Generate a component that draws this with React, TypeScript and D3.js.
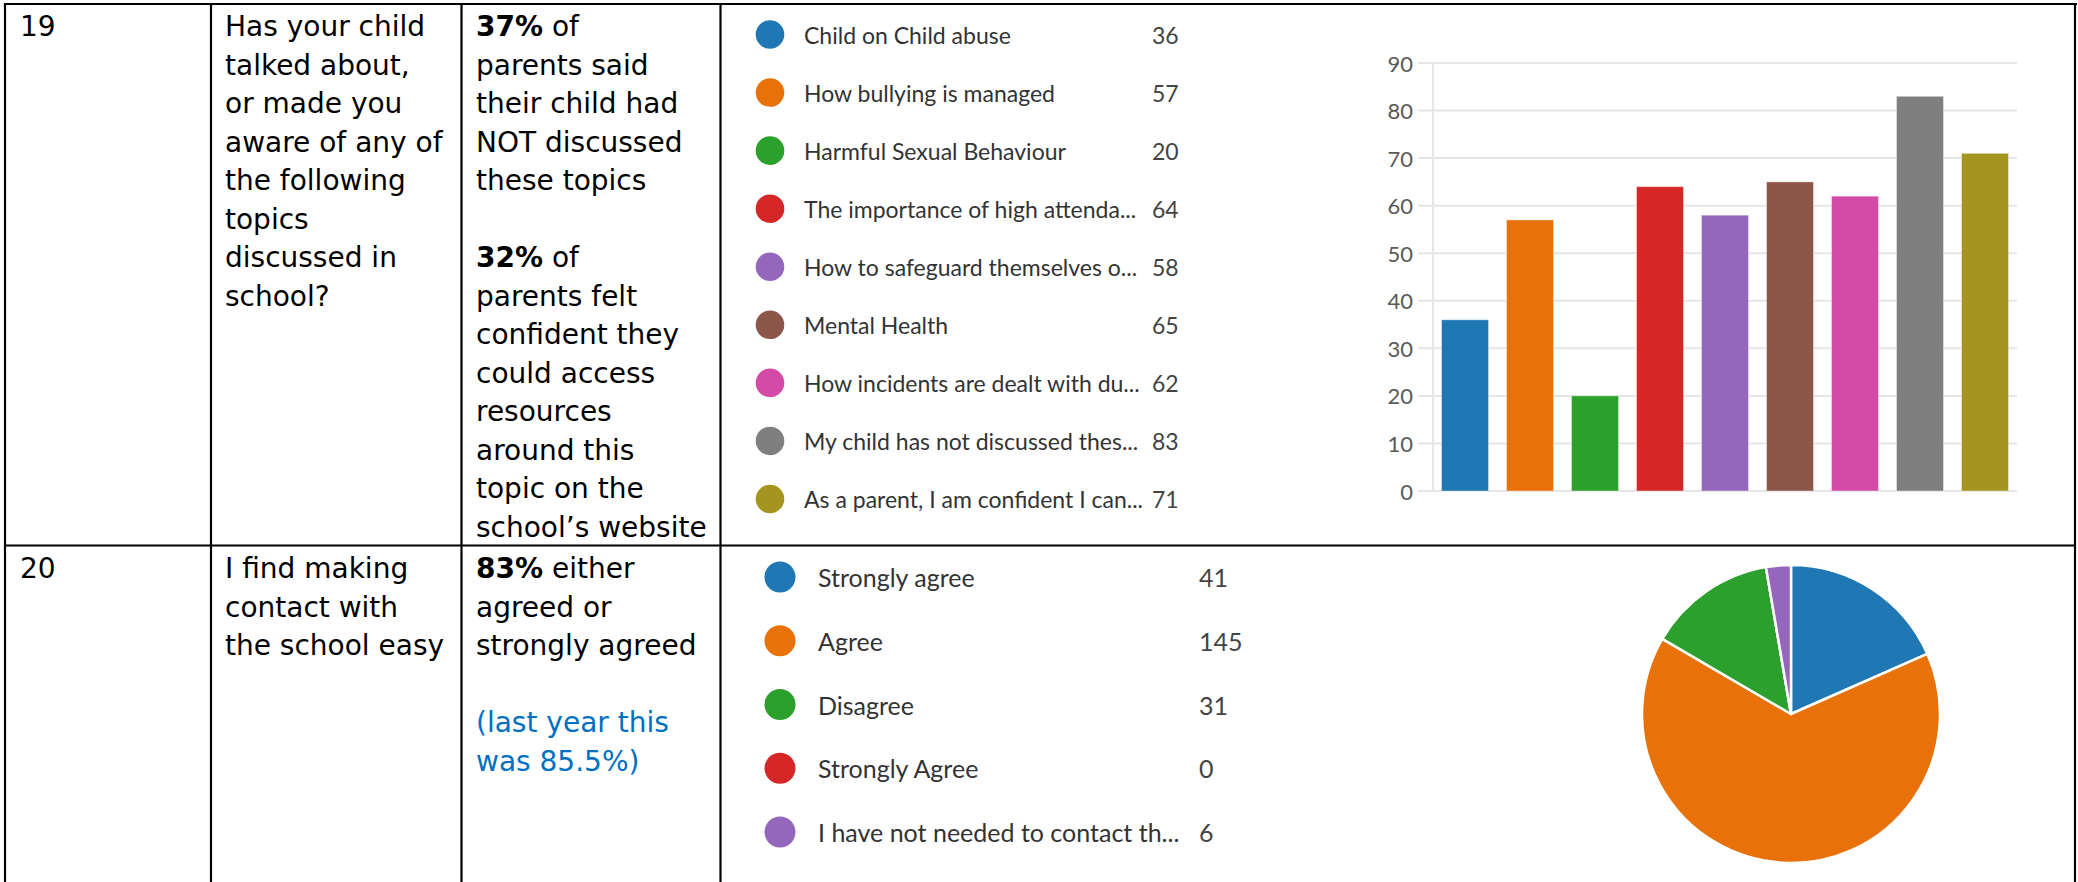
import React from "react";
import * as d3 from "d3";

// ---- Data ----
const topicLabels = [
  "Child on Child abuse",
  "How bullying is managed",
  "Harmful Sexual Behaviour",
  "The importance of high attenda...",
  "How to safeguard themselves o...",
  "Mental Health",
  "How incidents are dealt with du...",
  "My child has not discussed thes...",
  "As a parent, I am confident I can...",
];
const topicValues = [36, 57, 20, 64, 58, 65, 62, 83, 71];
const topicColors = ["#1f77b4", "#e8710a", "#2ca02c", "#d62728", "#9467bd", "#8c564b", "#d34ba7", "#7f7f7f", "#a4951e"];
const yTicks = [0, 10, 20, 30, 40, 50, 60, 70, 80, 90];

const contactLabels = ["Strongly agree", "Agree", "Disagree", "Strongly Agree", "I have not needed to contact th..."];
const contactValues = [41, 145, 31, 0, 6];
const contactColors = ["#1f77b4", "#e8710a", "#2ca02c", "#d62728", "#9467bd"];

const q19Number = "19";
const q19Question = ["Has your child", "talked about,", "or made you", "aware of any of", "the following", "topics", "discussed in", "school?"];
const q20Number = "20";
const q20Question = ["I find making", "contact with", "the school easy"];

const W = 2078;
const H = 882;
const tableFont = "'DejaVu Sans', Verdana, sans-serif";
const uiFont = "Lato, 'Open Sans', sans-serif";

export default function App() {
  // bar chart scales
  const x = d3.scaleBand<string>().domain(topicLabels).range([1433, 2017]).paddingInner(0.277).paddingOuter(0.131);
  const y = d3.scaleLinear().domain([0, 90]).range([491, 63]);
  const legY1 = d3.scaleLinear().domain([0, topicLabels.length - 1]).range([34.5, 499]);
  const legY2 = d3.scaleLinear().domain([0, contactLabels.length - 1]).range([577, 832]);

  const pie = d3.pie<number>().sort(null).value((d) => d);
  const arcs = pie(contactValues);
  const arc = d3.arc<d3.PieArcDatum<number>>().innerRadius(0).outerRadius(149);

  const lh = 38.5;
  const fs = 28;

  return (
    <div style={{ position: "absolute", left: 0, top: 0 }}>
      <svg width={W} height={H} style={{ display: "block", background: "#fff" }}>
        <rect x={0} y={0} width={W} height={H} fill="#fff" />

        {/* Row 19 text */}
        <g fontFamily={tableFont} fontSize={fs} fill="#000">
          <text x={20} y={36}>{q19Number}</text>
          {q19Question.map((t, i) => (
            <text key={i} x={225} y={36 + i * lh}>{t}</text>
          ))}
          <text x={476} y={36}><tspan fontWeight="bold">37%</tspan> of</text>
          <text x={476} y={36 + lh}>parents said</text>
          <text x={476} y={36 + 2 * lh}>their child had</text>
          <text x={476} y={36 + 3 * lh}>NOT discussed</text>
          <text x={476} y={36 + 4 * lh}>these topics</text>
          <text x={476} y={36 + 6 * lh}><tspan fontWeight="bold">32%</tspan> of</text>
          <text x={476} y={36 + 7 * lh}>parents felt</text>
          <text x={476} y={36 + 8 * lh}>confident they</text>
          <text x={476} y={36 + 9 * lh}>could access</text>
          <text x={476} y={36 + 10 * lh}>resources</text>
          <text x={476} y={36 + 11 * lh}>around this</text>
          <text x={476} y={36 + 12 * lh}>topic on the</text>
          <text x={476} y={36 + 13 * lh}>school’s website</text>

          {/* Row 20 text */}
          <text x={20} y={578}>{q20Number}</text>
          {q20Question.map((t, i) => (
            <text key={i} x={225} y={578 + i * lh}>{t}</text>
          ))}
          <text x={476} y={578}><tspan fontWeight="bold">83%</tspan> either</text>
          <text x={476} y={578 + lh}>agreed or</text>
          <text x={476} y={578 + 2 * lh}>strongly agreed</text>
          <text x={476} y={578 + 4 * lh} fill="#0070c0">(last year this</text>
          <text x={476} y={578 + 5 * lh} fill="#0070c0">was 85.5%)</text>
        </g>

        {/* Legend 19 */}
        <g fontFamily={uiFont} fontSize={23} fill="#333">
          {topicLabels.map((l, i) => (
            <g key={l}>
              <circle cx={770} cy={legY1(i)} r={14.3} fill={topicColors[i]} />
              <text x={804} y={legY1(i)} dominantBaseline="central">{l}</text>
              <text x={1152} y={legY1(i)} dominantBaseline="central" fill="#444">{topicValues[i]}</text>
            </g>
          ))}
        </g>

        {/* Bar chart */}
        <g>
          {yTicks.map((t) => (
            <g key={t}>
              <line x1={1418} x2={2017} y1={y(t)} y2={y(t)} stroke="#e6e6e6" strokeWidth={2} />
              <text x={1413} y={y(t)} textAnchor="end" dominantBaseline="central" fontFamily={uiFont} fontSize={22} fill="#595959">{t}</text>
            </g>
          ))}
          <line x1={1433} x2={1433} y1={y(90)} y2={y(0)} stroke="#e6e6e6" strokeWidth={2} />
          {topicLabels.map((l, i) => (
            <rect key={l} x={x(l)} y={y(topicValues[i])} width={x.bandwidth()} height={y(0) - y(topicValues[i])} fill={topicColors[i]} stroke="#ffffff" strokeOpacity={0.4} strokeWidth={1} />
          ))}
        </g>

        {/* Legend 20 */}
        <g fontFamily={uiFont} fontSize={25} fill="#333">
          {contactLabels.map((l, i) => (
            <g key={l}>
              <circle cx={780} cy={legY2(i)} r={15.5} fill={contactColors[i]} />
              <text x={818} y={legY2(i)} dominantBaseline="central">{l}</text>
              <text x={1199} y={legY2(i)} dominantBaseline="central" fill="#444">{contactValues[i]}</text>
            </g>
          ))}
        </g>

        {/* Pie */}
        <g transform="translate(1791,714)">
          {arcs.map((a, i) => (
            <path key={i} d={arc(a) || ""} fill={contactColors[i]} stroke="#fff" strokeWidth={2.5} strokeLinejoin="round" />
          ))}
        </g>

        {/* Table borders */}
        <g stroke="#000" strokeWidth={2.2}>
          <line x1={4} x2={2077} y1={4} y2={4} />
          <line x1={5} x2={5} y1={3} y2={H} />
          <line x1={211} x2={211} y1={3} y2={H} />
          <line x1={461.5} x2={461.5} y1={3} y2={H} />
          <line x1={720.5} x2={720.5} y1={3} y2={H} />
          <line x1={2075} x2={2075} y1={3} y2={H} />
          <line x1={4} x2={2076} y1={545.5} y2={545.5} />
        </g>
      </svg>
    </div>
  );
}
